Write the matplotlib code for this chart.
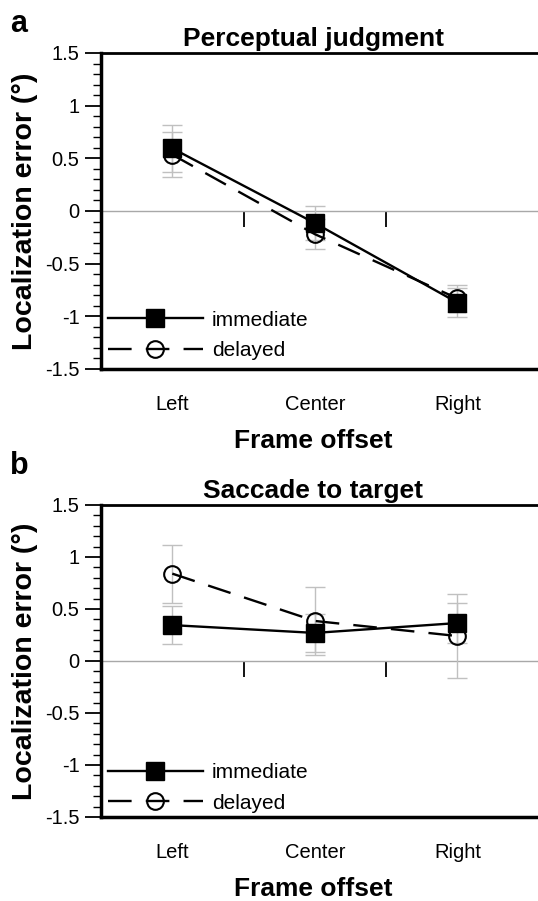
import matplotlib
matplotlib.use("Agg")
import matplotlib.pyplot as plt
from matplotlib.ticker import MultipleLocator

plt.rcParams['font.family'] = ['Liberation Sans', 'DejaVu Sans']

categories = ["Left", "Center", "Right"]
series_names = ["immediate", "delayed"]

# Panel a: Perceptual judgment
a_immediate = [0.595, -0.115, -0.87]
a_immediate_err = [0.225, 0.165, 0.14]
a_delayed = [0.535, -0.22, -0.83]
a_delayed_err = [0.215, 0.14, 0.13]

# Panel b: Saccade to target
b_immediate = [0.345, 0.27, 0.365]
b_immediate_err = [0.185, 0.18, 0.19]
b_delayed = [0.84, 0.385, 0.24]
b_delayed_err = [0.28, 0.33, 0.40]

panels = [
    ("a", "Perceptual judgment", a_immediate, a_immediate_err, a_delayed, a_delayed_err),
    ("b", "Saccade to target", b_immediate, b_immediate_err, b_delayed, b_delayed_err),
]

W, H = 538, 901
fig = plt.figure(figsize=(W / 100, H / 100), dpi=100)

ax_px = [(101, 53, 369), (101, 505, 817)]  # left, top, bottom in px
legend_bottom = [0.028, 0.014]
label_top_px = [9, 451]

x = [1, 2, 3]
for i, (letter, title, imm, imm_e, dl, dl_e) in enumerate(panels):
    left, top, bottom = ax_px[i]
    ax = fig.add_axes([left / W, 1 - bottom / H, 442 / W, (bottom - top) / H])
    ax.set_xlim(0.5, 3.6)
    ax.set_ylim(-1.5, 1.5)

    errc = '#c0c0c0'
    ax.errorbar(x, dl, yerr=dl_e, fmt='none', ecolor=errc, elinewidth=1.0,
                capsize=7.5, capthick=1.0, zorder=1)
    ax.errorbar(x, imm, yerr=imm_e, fmt='none', ecolor=errc, elinewidth=1.0,
                capsize=7.5, capthick=1.0, zorder=1)
    ax.plot(x, dl, color='black', lw=1.7, linestyle=(0, (10, 6)),
            marker='o', markersize=12, markerfacecolor='none',
            markeredgecolor='black', markeredgewidth=1.5, zorder=3,
            label=series_names[1])
    ax.plot(x, imm, color='black', lw=1.7, linestyle='-',
            marker='s', markersize=13, markerfacecolor='black',
            markeredgecolor='black', zorder=4, label=series_names[0])

    # zero line with inner ticks
    sec = ax.secondary_xaxis(0.5)
    sec.set_alignment('bottom')
    sec.spines['bottom'].set_color('#a8a8a8')
    sec.spines['bottom'].set_linewidth(1.0)
    sec.set_xticks([1.5, 2.5])
    sec.tick_params(axis='x', direction='out', length=11.5, width=1.3,
                    color='black', labelbottom=False, labeltop=False)

    ax.spines['right'].set_visible(False)
    ax.spines['left'].set_linewidth(2.5)
    ax.spines['bottom'].set_linewidth(2.5)
    ax.spines['top'].set_linewidth(2.0)

    ax.set_xticks(x)
    ax.set_xticklabels(categories)
    ax.tick_params(axis='x', length=0, pad=18.5, labelsize=14.5)
    ax.yaxis.set_major_locator(MultipleLocator(0.5))
    ax.yaxis.set_minor_locator(MultipleLocator(0.1))
    ax.set_yticks([-1.5, -1, -0.5, 0, 0.5, 1, 1.5])
    ax.set_yticklabels(['-1.5', '-1', '-0.5', '0', '0.5', '1', '1.5'])
    ax.tick_params(axis='y', which='major', direction='out', length=11.5,
                   width=1.3, labelsize=14.5, pad=4)
    ax.tick_params(axis='y', which='minor', direction='out', length=6,
                   width=1.0)

    ax.set_title(title, fontsize=19, fontweight='bold', x=0.48, pad=5)
    ax.set_xlabel("Frame offset", fontsize=19, fontweight='bold', x=0.48,
                  labelpad=11)
    ax.set_ylabel("Localization error (°)", fontsize=20.5, fontweight='bold',
                  labelpad=5)

    handles, labels = ax.get_legend_handles_labels()
    ax.legend(handles[::-1], labels[::-1], loc='lower left',
              bbox_to_anchor=(0.016, legend_bottom[i]), frameon=False,
              fontsize=15, handlelength=4.55, handletextpad=0.43,
              labelspacing=0.55, borderpad=0, borderaxespad=0)

    fig.text(10 / W, 1 - label_top_px[i] / H, letter, fontsize=22,
             fontweight='bold', va='top', ha='left')

fig.savefig("out.png", dpi=100)
